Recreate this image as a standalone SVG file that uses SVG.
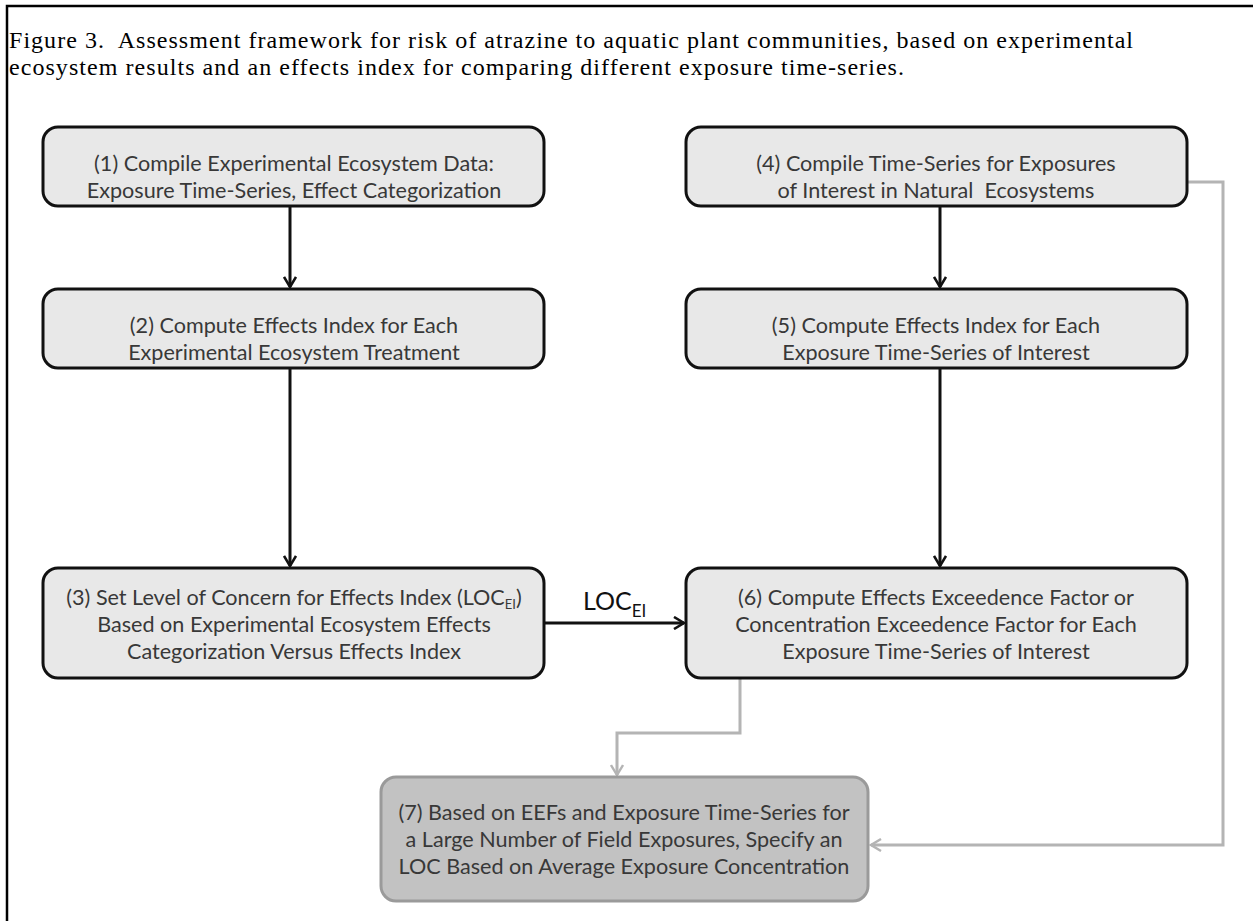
<svg xmlns="http://www.w3.org/2000/svg" width="1253" height="921" viewBox="0 0 1253 921">
<style>
.cap{font-family:"Liberation Serif",serif;font-size:24px;fill:#000;white-space:pre}
.box{fill:#e8e8e8;stroke:#111;stroke-width:3}
.box7{fill:#c2c2c2;stroke:#9a9a9a;stroke-width:3}
.t{font-family:Lato,"Open Sans",sans-serif;font-size:21.6px;fill:#383838;text-anchor:middle}
.c{fill:none;stroke:#111;stroke-width:3}
.g{fill:none;stroke:#b4b4b4;stroke-width:3}
</style>
<defs>
<marker id="ab" viewBox="0 0 14 14" refX="12" refY="7" markerWidth="14" markerHeight="14" markerUnits="userSpaceOnUse" orient="auto">
<path d="M2,1 L12,7 L2,13" fill="none" stroke="#111" stroke-width="2.6"/>
</marker>
<marker id="ag" viewBox="0 0 14 14" refX="12" refY="7" markerWidth="14" markerHeight="14" markerUnits="userSpaceOnUse" orient="auto">
<path d="M2,1 L12,7 L2,13" fill="none" stroke="#b4b4b4" stroke-width="2.4"/>
</marker>
</defs>
<rect width="1253" height="921" fill="#fff"/>
<path d="M7,925 L7,6 L1260,6" fill="none" stroke="#000" stroke-width="2.5"/>
<g id="caption">
<text class="cap" x="9" y="48" textLength="1124" lengthAdjust="spacing" xml:space="preserve">Figure 3.  Assessment framework for risk of atrazine to aquatic plant communities, based on experimental</text>
<text class="cap" x="9" y="75" textLength="895" lengthAdjust="spacing">ecosystem results and an effects index for comparing different exposure time-series.</text>
</g>
<g id="connectors">
<line class="c" x1="290" y1="206" x2="290" y2="287" marker-end="url(#ab)"/>
<line class="c" x1="290" y1="368" x2="290" y2="566" marker-end="url(#ab)"/>
<line class="c" x1="940" y1="206" x2="940" y2="287" marker-end="url(#ab)"/>
<line class="c" x1="940" y1="368" x2="940" y2="566" marker-end="url(#ab)"/>
<line class="c" x1="545" y1="623" x2="684" y2="623" marker-end="url(#ab)"/>
<text x="583" y="610" style="font-family:Lato,'Open Sans',sans-serif;font-size:25px;fill:#111">LOC<tspan dy="7" style="font-size:17px">EI</tspan></text>
<polyline class="g" points="1188,182 1223,182 1223,845 871,845" marker-end="url(#ag)"/>
<polyline class="g" points="740,678 740,733 617,733 617,775" marker-end="url(#ag)"/>
</g>
<g id="n1">
<rect class="box" x="43" y="127" width="501" height="79" rx="15"/>
<text class="t" x="294" y="171">(1) Compile Experimental Ecosystem Data:</text>
<text class="t" x="294" y="198">Exposure Time-Series, Effect Categorization</text>
</g>
<g id="n2">
<rect class="box" x="43" y="289" width="501" height="79" rx="15"/>
<text class="t" x="294" y="333">(2) Compute Effects Index for Each</text>
<text class="t" x="294" y="360">Experimental Ecosystem Treatment</text>
</g>
<g id="n3">
<rect class="box" x="43" y="568" width="501" height="110" rx="15"/>
<text class="t" x="294" y="605">(3) Set Level of Concern for Effects Index (LOC<tspan dy="4" style="font-size:13px">EI</tspan><tspan dy="-4">)</tspan></text>
<text class="t" x="294" y="632">Based on Experimental Ecosystem Effects</text>
<text class="t" x="294" y="659">Categorization Versus Effects Index</text>
</g>
<g id="n4">
<rect class="box" x="686" y="127" width="501" height="79" rx="15"/>
<text class="t" x="936" y="171">(4) Compile Time-Series for Exposures</text>
<text class="t" x="936" y="198" xml:space="preserve">of Interest in Natural  Ecosystems</text>
</g>
<g id="n5">
<rect class="box" x="686" y="289" width="501" height="79" rx="15"/>
<text class="t" x="936" y="333">(5) Compute Effects Index for Each</text>
<text class="t" x="936" y="360">Exposure Time-Series of Interest</text>
</g>
<g id="n6">
<rect class="box" x="686" y="568" width="501" height="110" rx="15"/>
<text class="t" x="936" y="605">(6) Compute Effects Exceedence Factor or</text>
<text class="t" x="936" y="632">Concentration Exceedence Factor for Each</text>
<text class="t" x="936" y="659">Exposure Time-Series of Interest</text>
</g>
<g id="n7">
<rect class="box7" x="381" y="777" width="487" height="124" rx="15"/>
<text class="t" x="624" y="820">(7) Based on EEFs and Exposure Time-Series for</text>
<text class="t" x="624" y="847">a Large Number of Field Exposures, Specify an</text>
<text class="t" x="624" y="874">LOC Based on Average Exposure Concentration</text>
</g>
</svg>
